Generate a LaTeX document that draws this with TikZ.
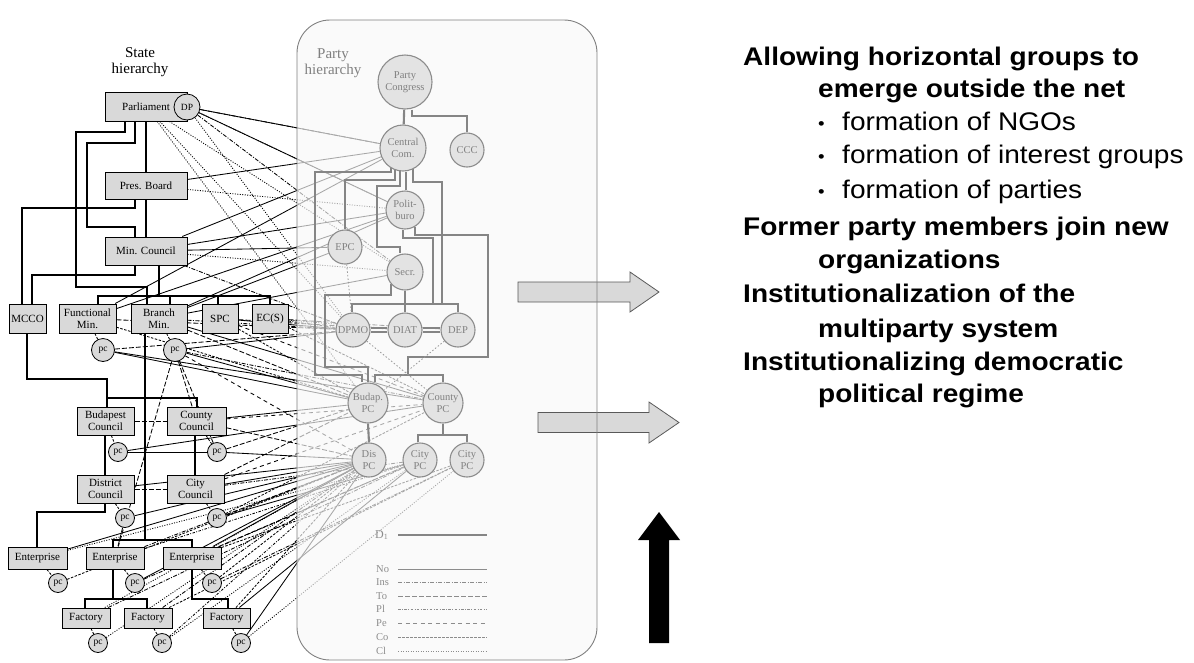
\documentclass[tikz,border=0pt]{standalone}
\usepackage{fontspec}
\setmainfont{Liberation Serif}
\newfontfamily\arial[FakeStretch=1.1]{Liberation Sans}
\pgfdeclarelayer{xlay}
\pgfdeclarelayer{veil}
\pgfdeclarelayer{play}
\pgfsetlayers{xlay,veil,play,main}
\begin{document}
\begin{tikzpicture}[x=1pt,y=-1pt,
 sbox/.style={draw=black, line width=1pt, fill=black!15, inner sep=0.5pt, align=center, font=\fontsize{11}{12}\selectfont},
 scirc/.style={circle, draw=black, line width=0.8pt, fill=black!15, inner sep=0pt, font=\fontsize{9.5}{9.5}\selectfont, minimum size=#1},
 pcirc/.style={circle, draw=black!45, line width=1.1pt, fill=black!11, inner sep=0pt, align=center, text=black!50, font=\fontsize{10.5}{11.5}\selectfont, minimum size=#1},
 sline/.style={line width=2.2pt, black},
 pline/.style={line width=2.1pt, black!48},
 pdot/.style={line width=0.8pt, black!40, dash pattern=on 1.5pt off 2pt},
 xbase/.style={line width=0.85pt, black},
 lNo/.style={xbase},
 lIns/.style={xbase, dash pattern=on 4pt off 1.5pt on 1pt off 1.5pt},
 lTo/.style={xbase, dash pattern=on 5pt off 2pt},
 lPl/.style={xbase, dash pattern=on 2.5pt off 1.5pt on 0.8pt off 1.5pt},
 lPe/.style={xbase, dash pattern=on 4pt off 3.5pt},
 lCo/.style={xbase, dash pattern=on 2.5pt off 1.5pt},
 lCl/.style={xbase, dash pattern=on 1pt off 1.5pt},
 leg/.style={text=black!45, inner sep=0pt, font=\fontsize{10.5}{11}\selectfont},
 thead/.style={anchor=base west, inner sep=0pt, font=\arial\bfseries\fontsize{25.5}{30}\selectfont},
 titem/.style={anchor=base west, inner sep=0pt, font=\arial\fontsize{25.5}{30}\selectfont},
]
\useasboundingbox (0,0) rectangle (1194,662);

% ---------- state hierarchy nodes ----------
\node[font=\fontsize{15}{16.5}\selectfont, align=center] (slab) at (140,62) {State\\hierarchy};
\node[sbox,minimum width=82,minimum height=29] (parl) at (146,106.5) {Parliament};
\node[scirc=26] (dp) at (187,107) {DP};
\node[sbox,minimum width=82,minimum height=27] (pres) at (146,185.5) {Pres. Board};
\node[sbox,minimum width=82,minimum height=28] (minc) at (146,251) {Min. Council};
\node[sbox,minimum width=37,minimum height=29] (mcco) at (27.5,318.5) {MCCO};
\node[sbox,minimum width=57,minimum height=29] (func) at (87.5,318.5) {Functional\\Min.};
\node[sbox,minimum width=56,minimum height=29] (branch) at (159,318.5) {Branch\\Min.};
\node[sbox,minimum width=36,minimum height=29] (spc) at (220,318.5) {SPC};
\node[sbox,minimum width=36,minimum height=29] (ecs) at (270,318.5) {EC(S)};
\node[scirc=23] (pc1) at (103,350) {pc};
\node[scirc=23] (pc2) at (175,350) {pc};
\node[sbox,minimum width=57,minimum height=28] (budc) at (105.5,421) {Budapest\\Council};
\node[sbox,minimum width=59,minimum height=28] (cntc) at (196.5,421) {County\\Council};
\node[scirc=19] (pc3) at (118,452) {pc};
\node[scirc=19] (pc4) at (217,452) {pc};
\node[sbox,minimum width=57,minimum height=28] (disc) at (105.5,489) {District\\Council};
\node[sbox,minimum width=57,minimum height=28] (cityc) at (195.5,489) {City\\Council};
\node[scirc=19] (pc5) at (125,518) {pc};
\node[scirc=19] (pc6) at (217,518) {pc};
\node[sbox,minimum width=59,minimum height=22] (ent1) at (37.5,558) {Enterprise};
\node[sbox,minimum width=58,minimum height=22] (ent2) at (115,558) {Enterprise};
\node[sbox,minimum width=58,minimum height=22] (ent3) at (192,558) {Enterprise};
\node[scirc=19] (pc7) at (58,583) {pc};
\node[scirc=19] (pc8) at (135,583) {pc};
\node[scirc=19] (pc9) at (212,583) {pc};
\node[sbox,minimum width=48,minimum height=20] (fac1) at (86,618) {Factory};
\node[sbox,minimum width=48,minimum height=20] (fac2) at (148,618) {Factory};
\node[sbox,minimum width=47,minimum height=20] (fac3) at (226.5,618) {Factory};
\node[scirc=19] (pc10) at (98,643) {pc};
\node[scirc=19] (pc11) at (162,643) {pc};
\node[scirc=19] (pc12) at (241,643) {pc};

% ---------- party hierarchy nodes ----------
\node[text=black!50, font=\fontsize{15}{16.5}\selectfont, align=center] (plab) at (333,63) {Party\\hierarchy};
\node[pcirc=54] (pcong) at (405,82) {Party\\Congress};
\node[pcirc=46] (ccom) at (403,148) {Central\\Com.};
\node[pcirc=34] (ccc) at (467,150) {CCC};
\node[pcirc=38] (polit) at (405,210) {Polit-\\buro};
\node[pcirc=34] (epc) at (345,247) {EPC};
\node[pcirc=36] (secr) at (405,272) {Secr.};
\node[pcirc=34] (dpmo) at (353,330) {DPMO};
\node[pcirc=34] (diat) at (405,330) {DIAT};
\node[pcirc=34] (dep) at (458,330) {DEP};
\node[pcirc=40] (budpc) at (368,403) {Budap.\\PC};
\node[pcirc=40] (cntpc) at (443,403) {County\\PC};
\node[pcirc=34] (dispc) at (369,460) {Dis\\PC};
\node[pcirc=34] (cpc1) at (420,460) {City\\PC};
\node[pcirc=34] (cpc2) at (467,460) {City\\PC};

% ---------- right text ----------
\node[thead] (t1) at (743,65) {Allowing horizontal groups to};
\node[thead] (t2) at (818,97) {emerge outside the net};
\node[titem] (t3) at (818,130) {\makebox[24pt][l]{\fontsize{17}{17}\selectfont\raisebox{1pt}{•}}formation of NGOs};
\node[titem] (t4) at (818,163) {\makebox[24pt][l]{\fontsize{17}{17}\selectfont\raisebox{1pt}{•}}formation of interest groups};
\node[titem] (t5) at (818,198) {\makebox[24pt][l]{\fontsize{17}{17}\selectfont\raisebox{1pt}{•}}formation of parties};
\node[thead] (t6) at (743,235) {Former party members join new};
\node[thead] (t7) at (818,268) {organizations};
\node[thead] (t8) at (743,302) {Institutionalization of the};
\node[thead] (t9) at (818,337) {multiparty system};
\node[thead] (t10) at (743,370) {Institutionalizing democratic};
\node[thead] (t11) at (818,402) {political regime};

% ---------- lines under the veil ----------
\begin{pgfonlayer}{xlay}
 % state hierarchy thick lines
 \draw[sline] (parl.south -| 146,0) -- (pres.north -| 146,0);
 \draw[sline] (pres.south -| 146,0) -- (minc.north -| 146,0);
 \draw[sline] (parl.south -| 125,0) |- (76,132) -- (76,287) -| (branch.north -| 147,0);
 \draw[sline] (parl.south -| 135,0) |- (87,143) -- (87,227) -| (minc.north -| 135,0);
 \draw[sline] (pres.south -| 135,0) |- (22,208) -- (mcco.north -| 22,0);
 \draw[sline] (minc.south -| 135,0) |- (32,275) -- (mcco.north -| 32,0);
 \draw[sline] (minc.south -| 159,0) -- (159,296);
 \draw[sline] (func.north -| 98,0) |- (270,296) -- (ecs.north -| 270,0);
 \draw[sline] (170,296) -- (branch.north -| 170,0);
 \draw[sline] (218,296) -- (spc.north -| 218,0);
 \draw[sline] (mcco.south -| 27,0) |- (107,379) -- (budc.north -| 107,0);
 \coordinate (j1) at (107,398);
 \draw[sline] (j1) -| (cntc.north -| 197,0);
 \draw[sline] (branch.south -| 145,0) -- (145,540);
 \draw[sline] (ent2.north -| 113,0) |- (192,540) -- (ent3.north -| 192,0);
 \draw[sline] (cntc.south -| 195,0) -- (cityc.north -| 195,0);
 \draw[sline] (budc.south -| 105,0) -- (disc.north -| 105,0);
 \draw[sline] (disc.south -| 105,0) |- (37,512) -- (ent1.north -| 37,0);
 \draw[sline] (ent2.south -| 113,0) -- (113,599);
 \draw[sline] (fac1.north -| 85,0) |- (147,599) -- (fac2.north -| 147,0);
 \draw[sline] (ent3.south -| 192,0) |- (228,599) -- (fac3.north -| 228,0);
 % box to pc
 \foreach \a/\b in {func/pc1,branch/pc2,budc/pc3,cntc/pc4,disc/pc5,cityc/pc6,ent1/pc7,ent2/pc8,ent3/pc9,fac1/pc10,fac2/pc11,fac3/pc12}
   \draw[lCo] (\a) -- (\b);
 % cross connections
 \foreach \a/\b/\s in {dp/ccom/lNo, dp/ccom/lIns, dp/polit/lNo, dp/polit/lCl, dp/secr/lIns, dp/dpmo/lCl,
  parl/dpmo/lCl, parl/budpc/lCl, parl/secr/lCl,
  pres/ccom/lNo, pres/polit/lCl,
  minc/ccom/lNo, minc/polit/lNo, minc/epc/lNo, minc/secr/lCl, minc/dpmo/lIns,
  func/ccom/lNo, func/polit/lNo, func/dpmo/lTo, func/budpc/lCo,
  branch/polit/lNo, branch/epc/lNo, branch/secr/lNo, branch/dpmo/lIns, branch/budpc/lTo, branch/cntpc/lNo,
  spc/dpmo/lNo, spc/diat/lTo, spc/budpc/lCo, spc/cntpc/lPe,
  ecs/dpmo/lPl, ecs/diat/lCl, ecs/dep/lTo, ecs/cntpc/lCo,
  pc1/dpmo/lTo, pc1/budpc/lNo, pc1/cntpc/lNo,
  pc2/dpmo/lNo, pc2/budpc/lNo, pc2/cntpc/lIns, pc2/dispc/lPe, pc2/cntc/lTo, pc2/pc4/lTo, pc2/ent2/lTo,
  budc/cntc/lTo, pc3/cntpc/lNo, pc3/pc4/lNo,
  cntc/budpc/lNo, cntc/dispc/lTo, cntc/cntpc/lPe,
  pc4/dispc/lNo, pc4/budpc/lTo,
  disc/cityc/lTo, disc/dispc/lNo,
  cityc/dispc/lNo, cityc/cpc1/lIns, cityc/budpc/lTo, cityc/cntpc/lPe,
  pc5/dispc/lNo, pc5/ent2/lTo,
  pc6/dispc/lTo, pc6/cpc1/lNo, pc6/cntpc/lCo,
  ent1/dispc/lNo, ent1/cpc1/lCl,
  ent2/dispc/lIns, ent2/cpc1/lPl,
  ent3/dispc/lNo, ent3/cpc1/lTo, ent3/cpc2/lCo,
  pc7/dispc/lCo, pc8/dispc/lNo, pc8/cpc1/lIns, pc9/cpc2/lIns, pc9/dispc/lCo,
  fac1/dispc/lCl, fac1/cpc1/lIns, fac2/dispc/lIns, fac2/cpc2/lCo,
  fac3/cpc1/lNo, fac3/dispc/lCo,
  pc10/dispc/lCl, pc11/dispc/lPl, pc11/cpc1/lCl, pc12/dispc/lNo, pc12/cpc2/lCl}
   \draw[\s] (\a) -- (\b);
\end{pgfonlayer}

% ---------- veil of the party box ----------
\begin{pgfonlayer}{veil}
 \fill[black!3, fill opacity=0.68, rounded corners=33] (297,20) rectangle (597,660);
\end{pgfonlayer}

% ---------- party structure, legend, arrows ----------
\begin{pgfonlayer}{play}
 \draw[pline] (pcong) -- (ccom);
 \draw[pline] (pcong.south -| 412,0) |- (ccc.north |- 0,116) -- (ccc.north);
 \draw[pline] (ccom.240) |- (315,172) -- (315,375) -| (budpc.north -| 362,0);
 \draw[pline] (ccom.250) |- (345,180) -- (epc.north -| 345,0);
 \draw[pline] (ccom.262) |- (377,186) -- (377,247) -| (secr.north -| 400,0);
 \draw[pline] (ccom.south -| 406,0) -- (polit.north -| 406,0);
 \draw[pline] (ccom.295) |- (442,182) -- (442,304);
 \draw[pline] (polit.south -| 403,0) |- (433,238) -- (433,304);
 \draw[pline] (polit.300) |- (488,235) -- (488,357) -| (408,375);
 \draw[pline] (budpc.north -| 375,0) |- (443,375) -- (cntpc.north);
 \draw[pline] (dpmo.north -| 352,0) |- (458,304) -- (dep.north -| 458,0);
 \draw[pline] (secr.south) -- (diat.north);
 \draw[pline] (secr.220) |- (325,295) -- (325,367) -| (budpc.north -| 368,0);
 \draw[pline, line width=1.2pt] ([yshift=2]dpmo.east) -- ([yshift=2]diat.west);
 \draw[pline, line width=1.2pt] ([yshift=-2]dpmo.east) -- ([yshift=-2]diat.west);
 \draw[pline, line width=1.2pt] ([yshift=2]diat.east) -- ([yshift=2]dep.west);
 \draw[pline, line width=1.2pt] ([yshift=-2]diat.east) -- ([yshift=-2]dep.west);
 \draw[pline] (budpc.south) -- (dispc.north);
 \draw[pline] (cntpc.south) -- (cntpc.south |- 0,435);
 \draw[pline] (cpc1.north -| 418,0) |- (467,435) -- (cpc2.north);
 \draw[pdot] (dpmo) -- (cntpc);
 \draw[pdot] (dep) -- (budpc);
 \draw[pdot] (epc) -- (dpmo);
 % legend
 \node[leg, anchor=west, font=\fontsize{12}{12}\selectfont] (lgD) at (375,535) {D\textsubscript{1}};
 \coordinate (lgDs) at (398,535);
 \coordinate (lgDe) at (487,535);
 \draw[line width=2.6pt, black!48] (lgDs) -- (lgDe);
 \foreach \lab/\yy/\st in {No/569/lNo, Ins/582/lIns, To/596/lTo, Pl/609/lPl, Pe/623/lPe, Co/637/lCo, Cl/651/lCl} {
   \node[leg, anchor=west] (lg\lab) at (376,\yy) {\lab};
   \coordinate (lg\lab s) at (398,\yy);
   \coordinate (lg\lab e) at (487,\yy);
   \draw[\st, draw=black!45] (lg\lab s) -- (lg\lab e);
 }
 % block arrows
 \filldraw[fill=black!15, draw=black!65, line width=0.8pt] (518,282) -- (630,282) -- (630,272) -- (659,292) -- (630,312) -- (630,302) -- (518,302) -- cycle;
 \filldraw[fill=black!15, draw=black!65, line width=0.8pt] (538,412.5) -- (649,412.5) -- (649,402) -- (679,422.5) -- (649,443) -- (649,432.5) -- (538,432.5) -- cycle;
 \fill[black] (649,643) -- (649,540) -- (638,540) -- (659,512) -- (680,540) -- (669,540) -- (669,643) -- cycle;
 % party box border
 \draw[black!50, line width=0.9pt, rounded corners=33] (297,20) rectangle (597,660);
\end{pgfonlayer}
\end{tikzpicture}
\end{document}
